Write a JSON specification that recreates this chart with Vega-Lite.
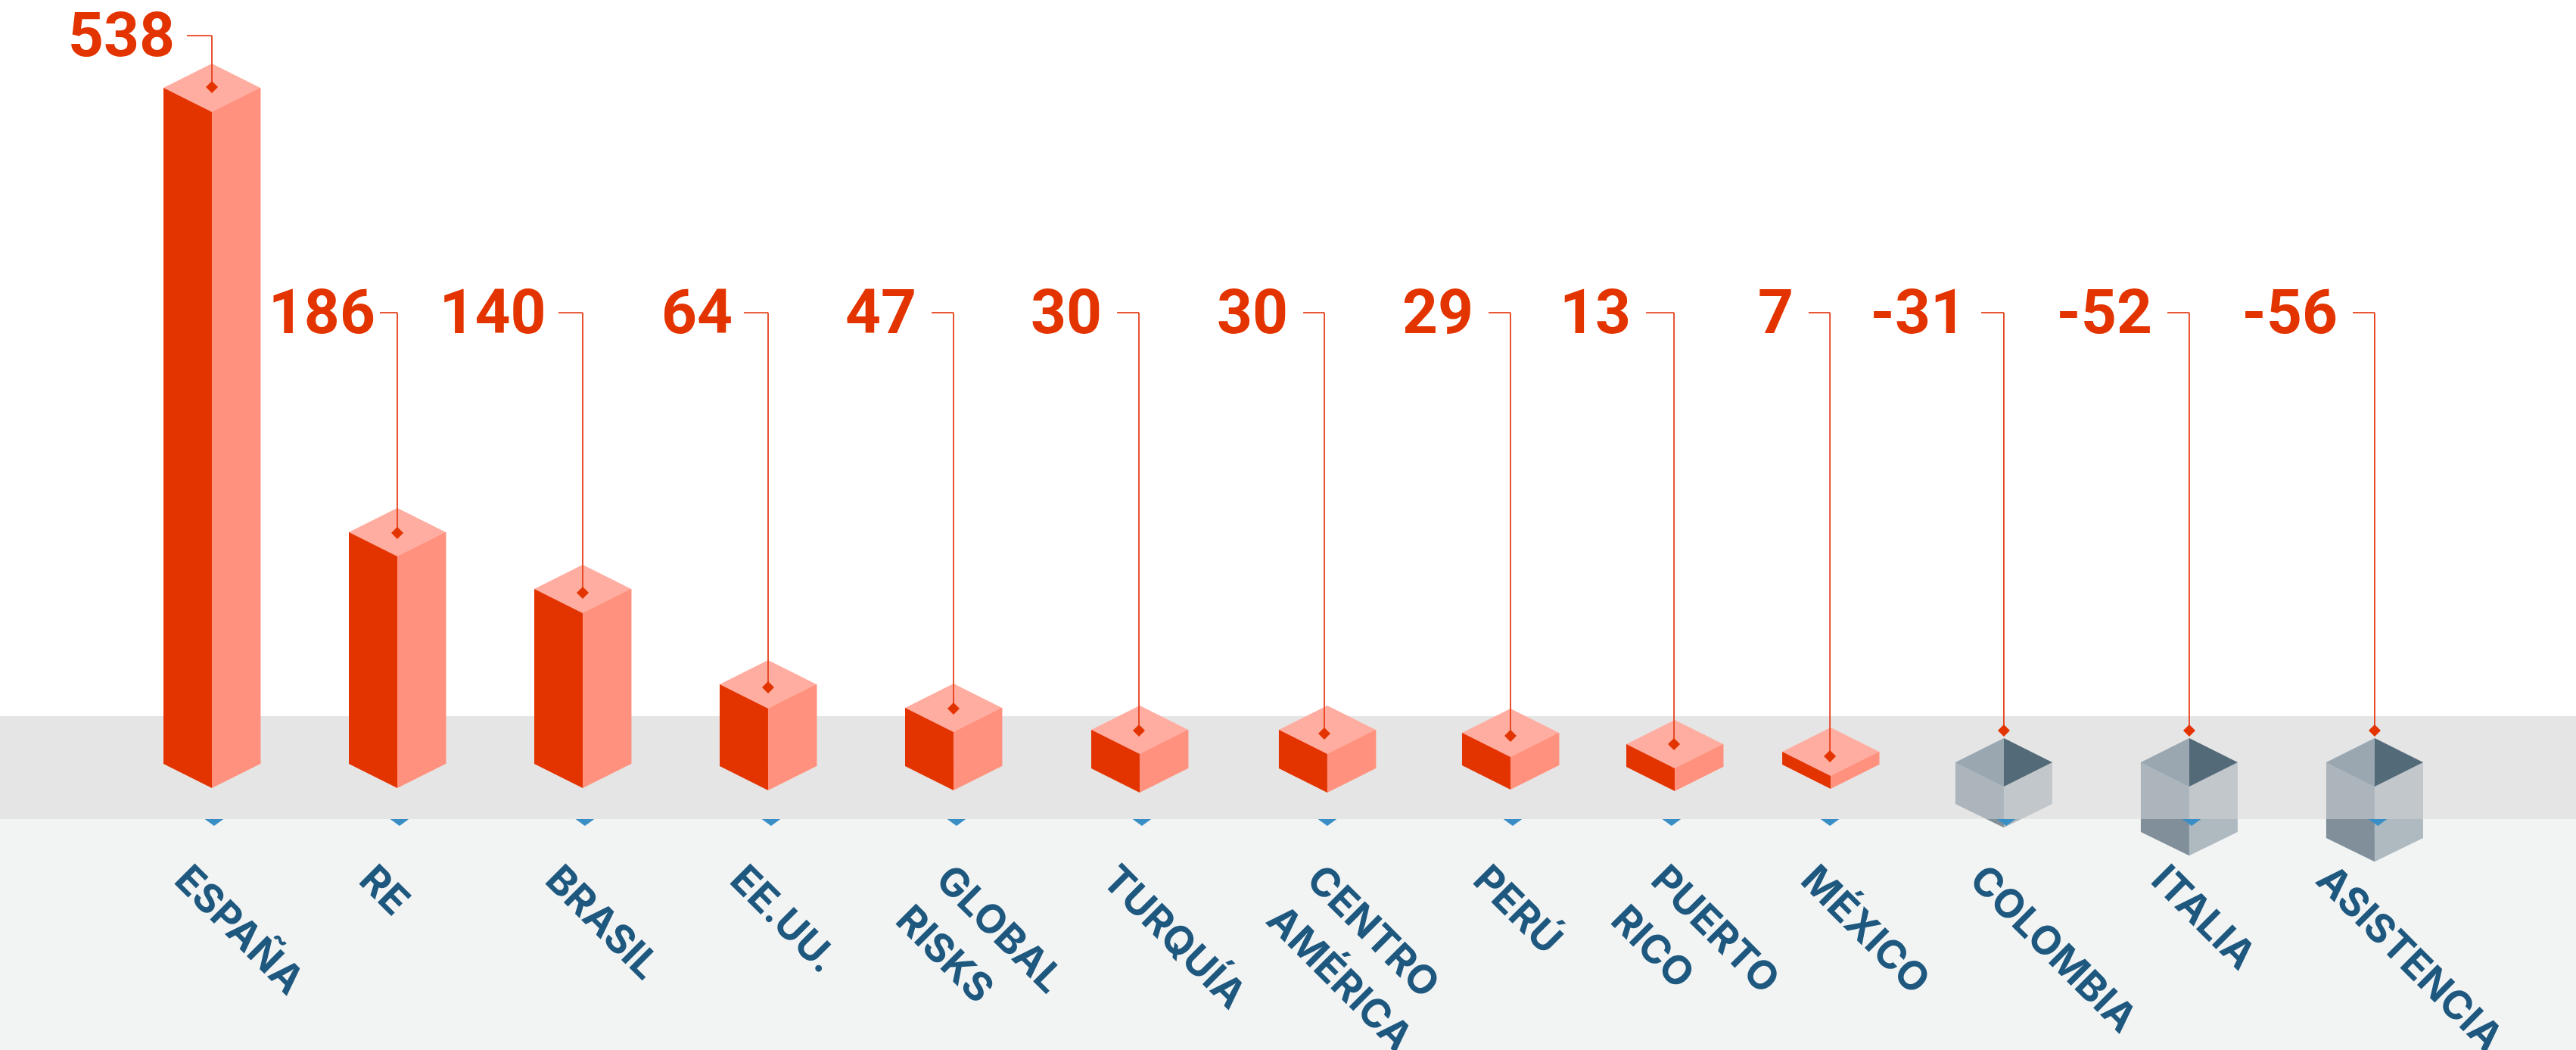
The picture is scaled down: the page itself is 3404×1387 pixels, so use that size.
{"$schema":"https://vega.github.io/schema/vega-lite/v6.json","autosize":{"type":"none"},"width":3404,"height":1387,"padding":0,"background":"#ffffff","view":{"stroke":null},
"datasets":{"bars":[
{"name":"ESPAÑA","value":538,"pos":0,"line":0,"tick":0.012,"textPos":-0.212,"labelPos":-0.216,"leadPos":-0.135,"top":538,"base":0,"bandBase":0,"marker":538.6,"label":579.5},
{"name":"RE","value":186,"pos":1,"line":1,"tick":1.012,"textPos":0.784,"labelPos":0.865,"leadPos":0.906,"top":184.3,"base":0,"bandBase":0,"marker":183.7,"label":359},
{"name":"BRASIL","value":140,"pos":2,"line":2,"tick":2.012,"textPos":1.788,"labelPos":1.786,"leadPos":1.869,"top":139.2,"base":0,"bandBase":0,"marker":136.1,"label":359},
{"name":"EE.UU.","value":64,"pos":3,"line":3,"tick":3.016,"textPos":2.784,"labelPos":2.792,"leadPos":2.869,"top":63.3,"base":-1.8,"bandBase":-1.8,"marker":60.8,"label":359},
{"name":"GLOBAL\nRISKS","value":47,"pos":4,"line":4,"tick":4.016,"textPos":3.894,"labelPos":3.784,"leadPos":3.882,"top":44.6,"base":-1.8,"bandBase":-1.8,"marker":44,"label":359},
{"name":"TURQUÍA","value":30,"pos":5.004,"line":5,"tick":5.016,"textPos":4.792,"labelPos":4.784,"leadPos":4.882,"top":27.1,"base":-3.6,"bandBase":-3.6,"marker":26.5,"label":359},
{"name":"CENTRO\nAMÉRICA","value":30,"pos":6.016,"line":6,"tick":6.016,"textPos":5.894,"labelPos":5.788,"leadPos":5.886,"top":27.1,"base":-3.6,"bandBase":-3.6,"marker":24.1,"label":359},
{"name":"PERÚ","value":29,"pos":7.004,"line":7.004,"tick":7.016,"textPos":6.792,"labelPos":6.788,"leadPos":6.886,"top":24.7,"base":-1.2,"bandBase":-1.2,"marker":22.3,"label":359},
{"name":"PUERTO\nRICO","value":13,"pos":7.89,"line":7.886,"tick":7.873,"textPos":7.751,"labelPos":7.637,"leadPos":7.735,"top":15.7,"base":-2.4,"bandBase":-2.4,"marker":15.7,"label":359},
{"name":"MÉXICO","value":7,"pos":8.731,"line":8.727,"tick":8.727,"textPos":8.559,"labelPos":8.514,"leadPos":8.612,"top":9.6,"base":-0.6,"bandBase":-0.6,"marker":6,"label":359},
{"name":"COLOMBIA","value":-31,"pos":9.665,"line":9.665,"tick":9.678,"textPos":9.469,"labelPos":9.445,"leadPos":9.543,"top":1.2,"base":-31.9,"bandBase":-31.9,"marker":26.5,"label":359},
{"name":"ITALIA","value":-52,"pos":10.665,"line":10.665,"tick":10.678,"textPos":10.449,"labelPos":10.449,"leadPos":10.547,"top":1.2,"base":-54.2,"bandBase":-44,"marker":26.5,"label":359},
{"name":"ASISTENCIA","value":-56,"pos":11.665,"line":11.665,"tick":11.682,"textPos":11.339,"labelPos":11.449,"leadPos":11.547,"top":1.2,"base":-59,"bandBase":-44,"marker":26.5,"label":359}
]},
"data":{"name":"bars"},
"layer":[
{"data":{"values":[{"zone":"below","from":-44,"to":-227.71}]},"mark":{"type":"rect","color":"#f2f4f4"},"encoding":{"x":{"datum":-1.142857,"type":"quantitative","scale":{"domain":[-1.142857,12.75102],"nice":false,"zero":false,"padding":0},"axis":null},"x2":{"datum":12.75102},"y":{"field":"from","type":"quantitative","scale":{"domain":[-227.71,607.83],"nice":false,"zero":false},"axis":null},"y2":{"field":"to"}}},
{"transform":[{"filter":"datum.value<0"}],"mark":{"type":"bar","width":64,"xOffset":-32,"color":"#808f99"},"encoding":{"x":{"field":"pos","type":"quantitative","scale":{"domain":[-1.142857,12.75102],"nice":false,"zero":false,"padding":0},"axis":null},"y":{"field":"top","type":"quantitative","scale":{"domain":[-227.71,607.83],"nice":false,"zero":false},"axis":null},"y2":{"field":"base"}}},
{"transform":[{"filter":"datum.value<0"}],"mark":{"type":"bar","width":64,"xOffset":32,"color":"#afbac0"},"encoding":{"x":{"field":"pos","type":"quantitative","scale":{"domain":[-1.142857,12.75102],"nice":false,"zero":false,"padding":0},"axis":null},"y":{"field":"top","type":"quantitative","scale":{"domain":[-227.71,607.83],"nice":false,"zero":false},"axis":null},"y2":{"field":"base"}}},
{"transform":[{"filter":"datum.value<0"}],"mark":{"type":"point","filled":true,"opacity":1,"size":16384,"shape":"M-1,0L0,0L0,0.49Z","color":"#808f99"},"encoding":{"x":{"field":"pos","type":"quantitative","scale":{"domain":[-1.142857,12.75102],"nice":false,"zero":false,"padding":0},"axis":null},"y":{"field":"base","type":"quantitative","scale":{"domain":[-227.71,607.83],"nice":false,"zero":false},"axis":null}}},
{"transform":[{"filter":"datum.value<0"}],"mark":{"type":"point","filled":true,"opacity":1,"size":16384,"shape":"M0,0L1,0L0,0.49Z","color":"#afbac0"},"encoding":{"x":{"field":"pos","type":"quantitative","scale":{"domain":[-1.142857,12.75102],"nice":false,"zero":false,"padding":0},"axis":null},"y":{"field":"base","type":"quantitative","scale":{"domain":[-227.71,607.83],"nice":false,"zero":false},"axis":null}}},
{"data":{"values":[{"zone":"band","from":37.95,"to":-44}]},"mark":{"type":"rect","color":"#e5e5e5"},"encoding":{"x":{"datum":-1.142857,"type":"quantitative","scale":{"domain":[-1.142857,12.75102],"nice":false,"zero":false,"padding":0},"axis":null},"x2":{"datum":12.75102},"y":{"field":"from","type":"quantitative","scale":{"domain":[-227.71,607.83],"nice":false,"zero":false},"axis":null},"y2":{"field":"to"}}},
{"transform":[{"filter":"datum.value<0"}],"mark":{"type":"bar","width":64,"xOffset":-32,"color":"#acb5bc"},"encoding":{"x":{"field":"pos","type":"quantitative","scale":{"domain":[-1.142857,12.75102],"nice":false,"zero":false,"padding":0},"axis":null},"y":{"field":"top","type":"quantitative","scale":{"domain":[-227.71,607.83],"nice":false,"zero":false},"axis":null},"y2":{"field":"bandBase"}}},
{"transform":[{"filter":"datum.value<0"}],"mark":{"type":"bar","width":64,"xOffset":32,"color":"#c2c7cc"},"encoding":{"x":{"field":"pos","type":"quantitative","scale":{"domain":[-1.142857,12.75102],"nice":false,"zero":false,"padding":0},"axis":null},"y":{"field":"top","type":"quantitative","scale":{"domain":[-227.71,607.83],"nice":false,"zero":false},"axis":null},"y2":{"field":"bandBase"}}},
{"transform":[{"filter":"datum.name=='COLOMBIA'"}],"mark":{"type":"point","filled":true,"opacity":1,"size":16384,"shape":"M-1,0L0,0L0,0.3125L-0.36,0.3125Z","color":"#acb5bc"},"encoding":{"x":{"field":"pos","type":"quantitative","scale":{"domain":[-1.142857,12.75102],"nice":false,"zero":false,"padding":0},"axis":null},"y":{"field":"base","type":"quantitative","scale":{"domain":[-227.71,607.83],"nice":false,"zero":false},"axis":null}}},
{"transform":[{"filter":"datum.name=='COLOMBIA'"}],"mark":{"type":"point","filled":true,"opacity":1,"size":16384,"shape":"M0,0L1,0L0.36,0.3125L0,0.3125Z","color":"#c2c7cc"},"encoding":{"x":{"field":"pos","type":"quantitative","scale":{"domain":[-1.142857,12.75102],"nice":false,"zero":false,"padding":0},"axis":null},"y":{"field":"base","type":"quantitative","scale":{"domain":[-227.71,607.83],"nice":false,"zero":false},"axis":null}}},
{"transform":[{"filter":"datum.value>=0"}],"mark":{"type":"bar","width":64,"xOffset":-32,"color":"#e33400"},"encoding":{"x":{"field":"pos","type":"quantitative","scale":{"domain":[-1.142857,12.75102],"nice":false,"zero":false,"padding":0},"axis":null},"y":{"field":"top","type":"quantitative","scale":{"domain":[-227.71,607.83],"nice":false,"zero":false},"axis":null},"y2":{"field":"base"}}},
{"transform":[{"filter":"datum.value>=0"}],"mark":{"type":"bar","width":64.5,"xOffset":32.2,"color":"#ff917e"},"encoding":{"x":{"field":"pos","type":"quantitative","scale":{"domain":[-1.142857,12.75102],"nice":false,"zero":false,"padding":0},"axis":null},"y":{"field":"top","type":"quantitative","scale":{"domain":[-227.71,607.83],"nice":false,"zero":false},"axis":null},"y2":{"field":"base"}}},
{"transform":[{"filter":"datum.value>=0"}],"mark":{"type":"point","filled":true,"opacity":1,"size":16384,"shape":"M-1,0L0,0L0,0.5Z","color":"#e33400"},"encoding":{"x":{"field":"pos","type":"quantitative","scale":{"domain":[-1.142857,12.75102],"nice":false,"zero":false,"padding":0},"axis":null},"y":{"field":"base","type":"quantitative","scale":{"domain":[-227.71,607.83],"nice":false,"zero":false},"axis":null}}},
{"transform":[{"filter":"datum.value>=0"}],"mark":{"type":"point","filled":true,"opacity":1,"size":16384,"shape":"M0,0L1,0L0,0.5Z","color":"#ff917e"},"encoding":{"x":{"field":"pos","type":"quantitative","scale":{"domain":[-1.142857,12.75102],"nice":false,"zero":false,"padding":0},"axis":null},"y":{"field":"base","type":"quantitative","scale":{"domain":[-227.71,607.83],"nice":false,"zero":false},"axis":null}}},
{"transform":[{"filter":"datum.value>=0"}],"mark":{"type":"point","filled":true,"opacity":1,"size":16384,"shape":"M-1,0L0,-0.5L1,0L0,0.5Z","color":"#ffada0"},"encoding":{"x":{"field":"pos","type":"quantitative","scale":{"domain":[-1.142857,12.75102],"nice":false,"zero":false,"padding":0},"axis":null},"y":{"field":"top","type":"quantitative","scale":{"domain":[-227.71,607.83],"nice":false,"zero":false},"axis":null}}},
{"transform":[{"filter":"datum.value<0"}],"mark":{"type":"point","filled":true,"opacity":1,"size":16384,"shape":"M-1,0L0,-0.5L0,0.5Z","color":"#9aa7b1"},"encoding":{"x":{"field":"pos","type":"quantitative","scale":{"domain":[-1.142857,12.75102],"nice":false,"zero":false,"padding":0},"axis":null},"y":{"field":"top","type":"quantitative","scale":{"domain":[-227.71,607.83],"nice":false,"zero":false},"axis":null}}},
{"transform":[{"filter":"datum.value<0"}],"mark":{"type":"point","filled":true,"opacity":1,"size":16384,"shape":"M0,-0.5L1,0L0,0.5Z","color":"#536a79"},"encoding":{"x":{"field":"pos","type":"quantitative","scale":{"domain":[-1.142857,12.75102],"nice":false,"zero":false,"padding":0},"axis":null},"y":{"field":"top","type":"quantitative","scale":{"domain":[-227.71,607.83],"nice":false,"zero":false},"axis":null}}},
{"mark":{"type":"point","filled":true,"opacity":1,"size":605,"shape":"M-1,0L1,0L0,0.73Z","color":"#3a8ec6"},"encoding":{"x":{"field":"tick","type":"quantitative","scale":{"domain":[-1.142857,12.75102],"nice":false,"zero":false,"padding":0},"axis":null},"y":{"datum":-44,"type":"quantitative","scale":{"domain":[-227.71,607.83],"nice":false,"zero":false},"axis":null}}},
{"mark":{"type":"rule","color":"#e63f1a","strokeWidth":1.8},"encoding":{"x":{"field":"line","type":"quantitative","scale":{"domain":[-1.142857,12.75102],"nice":false,"zero":false,"padding":0},"axis":null},"y":{"field":"label","type":"quantitative","scale":{"domain":[-227.71,607.83],"nice":false,"zero":false},"axis":null},"y2":{"field":"marker"}}},
{"mark":{"type":"rule","color":"#e63f1a","strokeWidth":1.8},"encoding":{"x":{"field":"leadPos","type":"quantitative","scale":{"domain":[-1.142857,12.75102],"nice":false,"zero":false,"padding":0},"axis":null},"x2":{"field":"line"},"y":{"field":"label","type":"quantitative","scale":{"domain":[-227.71,607.83],"nice":false,"zero":false},"axis":null}}},
{"mark":{"type":"point","filled":true,"opacity":1,"size":256,"shape":"M-1,0L0,-1L1,0L0,1Z","color":"#e33400"},"encoding":{"x":{"field":"line","type":"quantitative","scale":{"domain":[-1.142857,12.75102],"nice":false,"zero":false,"padding":0},"axis":null},"y":{"field":"marker","type":"quantitative","scale":{"domain":[-227.71,607.83],"nice":false,"zero":false},"axis":null}}},
{"mark":{"type":"text","align":"right","baseline":"middle","font":"Roboto","fontWeight":"bold","fontSize":82,"xOffset":4,"yOffset":2,"color":"#e33400"},"encoding":{"x":{"field":"labelPos","type":"quantitative","scale":{"domain":[-1.142857,12.75102],"nice":false,"zero":false,"padding":0},"axis":null},"y":{"field":"label","type":"quantitative","scale":{"domain":[-227.71,607.83],"nice":false,"zero":false},"axis":null},"text":{"field":"value","type":"nominal"}}},
{"mark":{"type":"text","align":"left","baseline":"alphabetic","angle":45,"lineBreak":"\n","lineHeight":75,"font":"Inter","fontWeight":"bold","fontSize":52.5,"color":"#1f587f"},"encoding":{"x":{"field":"textPos","type":"quantitative","scale":{"domain":[-1.142857,12.75102],"nice":false,"zero":false,"padding":0},"axis":null},"y":{"datum":-94,"type":"quantitative","scale":{"domain":[-227.71,607.83],"nice":false,"zero":false},"axis":null},"text":{"field":"name","type":"nominal"}}}
]}
